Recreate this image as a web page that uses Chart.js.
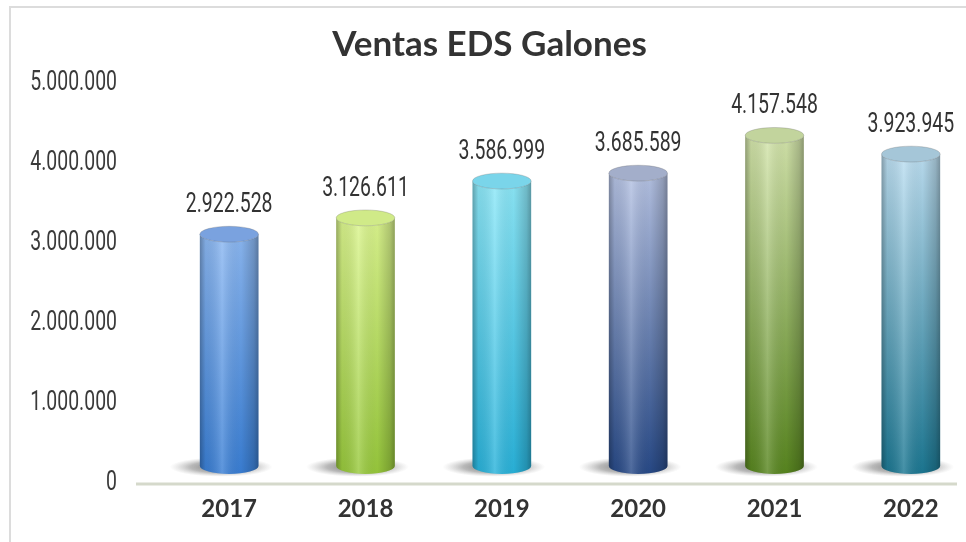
<!DOCTYPE html>
<html>
<head>
<meta charset="utf-8">
<script src="https://cdn.jsdelivr.net/npm/chart.js@4.4.1/dist/chart.umd.min.js"></script>
<style>
  html, body { margin: 0; padding: 0; background: #fff; overflow: hidden; width: 966px; height: 542px; }
  #frame { position: absolute; left: 9px; top: 6px; width: 1000px; height: 600px;
           border-left: 2px solid #dcdcdc; border-top: 2px solid #dcdcdc; }
  #wrap { position: absolute; left: 0; top: 0; width: 992px; height: 542px; }
</style>
</head>
<body>
<div id="frame"></div>
<div id="wrap"><canvas id="c" width="992" height="542"></canvas></div>
<script>
// Annual fuel sales of the service stations, in gallons
const years = ['2017', '2018', '2019', '2020', '2021', '2022'];
const galones = [2922528, 3126611, 3586999, 3685589, 4157548, 3923945];
const yTicks = [0, 1000000, 2000000, 3000000, 4000000, 5000000];
const chartTitle = 'Ventas EDS Galones';

// Cylinder palette: light (top of body), dark (base of body), cap (top face)
const cylinderColors = [
  { light: '#8cb8f2', dark: '#3a7fd5', cap: '#7aa2df' },
  { light: '#dbf58e', dark: '#98c93c', cap: '#d0ea88' },
  { light: '#8de8f8', dark: '#29b3db', cap: '#7ad5ea' },
  { light: '#b6c3e4', dark: '#284a88', cap: '#a3aeca' },
  { light: '#d4e5ac', dark: '#58861f', cap: '#c2d49d' },
  { light: '#bddff2', dark: '#1c7893', cap: '#a5c6d8' }
];

// Condensed numerals: regular face squeezed horizontally
const NUM_FONT = '400 27px Roboto, "DejaVu Sans", sans-serif';
const NUM_SX = 0.72;
const DEPTH = 15; // 3D floor lift of the cylinders

function fmtMiles(n) {
  return String(n).replace(/\B(?=(\d{3})+(?!\d))/g, '.');
}

function drawNarrow(ctx, text, x, y, align) {
  ctx.save();
  ctx.translate(x, y);
  ctx.scale(NUM_SX, 1);
  ctx.font = NUM_FONT;
  ctx.textAlign = align;
  ctx.textBaseline = 'middle';
  ctx.fillText(text, 0, 0);
  ctx.restore();
}

const floorLine = {
  id: 'floorLine',
  beforeDatasetsDraw(chart) {
    const { ctx, chartArea } = chart;
    const y0 = chart.scales.y.getPixelForValue(0) + 1;
    ctx.save();
    ctx.strokeStyle = '#d5d9cb';
    ctx.lineWidth = 3;
    ctx.beginPath();
    ctx.moveTo(chartArea.left - 25, y0);
    ctx.lineTo(chartArea.right - 22, y0);
    ctx.stroke();
    ctx.restore();
  }
};

const yLabels = {
  id: 'yLabels',
  afterDraw(chart) {
    const ctx = chart.ctx;
    const s = chart.scales.y;
    ctx.save();
    ctx.fillStyle = '#3a3a3a';
    s.ticks.forEach(t => {
      drawNarrow(ctx, fmtMiles(t.value), s.right - 44, s.getPixelForValue(t.value), 'right');
    });
    ctx.restore();
  }
};

const cylinders = {
  id: 'cylinders',
  afterDatasetsDraw(chart) {
    const ctx = chart.ctx;
    const meta = chart.getDatasetMeta(0);
    const values = chart.data.datasets[0].data;
    meta.data.forEach((bar, i) => {
      const col = cylinderColors[i % cylinderColors.length];
      const cx = bar.x;
      const rx = bar.width / 2;
      const ry = rx * 0.27;
      const top = bar.y - DEPTH;
      const bottom = bar.base - DEPTH - 2;
      const left = cx - rx, right = cx + rx;

      ctx.save();
      // soft floor shadow
      ctx.save();
      ctx.translate(cx - 8, bottom + 1);
      ctx.scale(1, 0.19);
      const sr = rx * 1.75;
      const sg = ctx.createRadialGradient(0, 0, 0, 0, 0, sr);
      sg.addColorStop(0, 'rgba(60,60,60,0.75)');
      sg.addColorStop(0.6, 'rgba(100,100,100,0.45)');
      sg.addColorStop(1, 'rgba(150,150,150,0)');
      ctx.fillStyle = sg;
      ctx.beginPath();
      ctx.arc(0, 0, sr, 0, Math.PI * 2);
      ctx.fill();
      ctx.restore();

      // body
      ctx.beginPath();
      ctx.moveTo(left, top);
      ctx.lineTo(left, bottom);
      ctx.ellipse(cx, bottom, rx, ry, 0, Math.PI, 0, true);
      ctx.lineTo(right, top);
      ctx.ellipse(cx, top, rx, ry, 0, 0, Math.PI, false);
      ctx.closePath();
      const vg = ctx.createLinearGradient(0, top, 0, bottom + ry);
      vg.addColorStop(0, col.light);
      vg.addColorStop(1, col.dark);
      ctx.fillStyle = vg;
      ctx.fill();
      const hg = ctx.createLinearGradient(left, 0, right, 0);
      hg.addColorStop(0, 'rgba(0,0,0,0.30)');
      hg.addColorStop(0.1, 'rgba(0,0,0,0.07)');
      hg.addColorStop(0.38, 'rgba(255,255,255,0.18)');
      hg.addColorStop(0.7, 'rgba(0,0,0,0.03)');
      hg.addColorStop(0.92, 'rgba(0,0,0,0.2)');
      hg.addColorStop(1, 'rgba(0,0,0,0.34)');
      ctx.fillStyle = hg;
      ctx.fill();

      // top face
      ctx.beginPath();
      ctx.ellipse(cx, top, rx, ry, 0, 0, Math.PI * 2);
      ctx.fillStyle = col.cap;
      ctx.fill();
      ctx.strokeStyle = 'rgba(90,90,90,0.25)';
      ctx.lineWidth = 1;
      ctx.stroke();

      // value label
      ctx.fillStyle = '#333333';
      drawNarrow(ctx, fmtMiles(values[i]), cx, bar.y - 44, 'center');
      ctx.restore();
    });
  }
};

new Chart(document.getElementById('c'), {
  type: 'bar',
  data: {
    labels: years,
    datasets: [{
      label: chartTitle,
      data: galones,
      backgroundColor: 'rgba(0,0,0,0)',
      borderWidth: 0,
      categoryPercentage: 1,
      barPercentage: 0.43
    }]
  },
  options: {
    responsive: false,
    animation: false,
    events: [],
    layout: { padding: { left: 0, right: 13, top: 0, bottom: 0 } },
    plugins: {
      legend: { display: false },
      tooltip: { enabled: false },
      title: {
        display: true,
        text: chartTitle,
        color: '#333333',
        font: { family: 'Lato', size: 35, weight: 'bold', lineHeight: 1.2 },
        padding: { top: 24, bottom: 17 }
      }
    },
    scales: {
      x: {
        grid: { display: false, drawTicks: false },
        border: { display: false },
        ticks: {
          color: '#333333',
          padding: 12,
          font: { family: 'Lato', size: 24, weight: 'bold', lineHeight: 1.2 }
        },
        afterFit(scale) { scale.height = 59; }
      },
      y: {
        min: yTicks[0],
        max: yTicks[yTicks.length - 1],
        grid: { display: false, drawTicks: false },
        border: { display: false },
        afterBuildTicks(scale) { scale.ticks = yTicks.map(v => ({ value: v })); },
        ticks: { display: false },
        afterFit(scale) { scale.width = 161; }
      }
    }
  },
  plugins: [floorLine, cylinders, yLabels]
});
</script>
</body>
</html>
